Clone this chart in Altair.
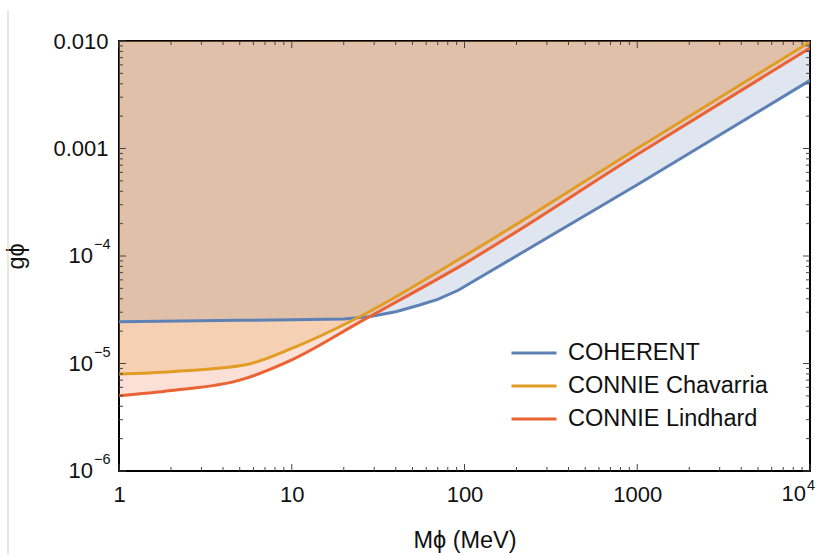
import altair as alt
import pandas as pd

# Exclusion limits on the scalar mediator coupling g_phi vs. its mass M_phi (MeV)
mass_coherent = [1, 5, 10, 20, 28, 40, 55, 70, 92, 1000, 10000]
g_coherent = [2.45e-5, 2.52e-5, 2.55e-5, 2.6e-5, 2.72e-5, 3.03e-5, 3.5e-5, 3.95e-5, 4.8e-5, 4.6e-4, 4.3e-3]

mass_chavarria = [1, 2, 5.5, 10, 25, 100, 1000, 10000]
g_chavarria = [8.0e-6, 8.4e-6, 9.8e-6, 1.38e-5, 2.75e-5, 1.0e-4, 1.0e-3, 9.8e-3]

mass_lindhard = [1, 2, 5, 10, 25, 100, 1000, 10000]
g_lindhard = [5.0e-6, 5.6e-6, 7.0e-6, 1.08e-5, 2.45e-5, 8.5e-5, 8.8e-4, 8.6e-3]

series_names = ["COHERENT", "CONNIE Chavarria", "CONNIE Lindhard"]
series_colors = ["#5E81B5", "#E19C24", "#EB6235"]
series_interp = ["linear", "monotone", "monotone"]

x_ticks = [1, 10, 100, 1000, 10000]
y_ticks = [1e-6, 1e-5, 1e-4, 1e-3, 1e-2]
x_domain = [1, 10000]
y_domain = [1e-6, 1e-2]

# power-of-ten labels drawn as base + raised exponent
y_pow_values = [1e-4, 1e-5, 1e-6]
y_pow_exps = ["−4", "−5", "−6"]
x_pow_values = [10000]
x_pow_exps = ["4"]

W, H = 691, 430
FONT = "Liberation Sans"
TXT = "#111"

frames = []
for name, ms, gs in [
    (series_names[0], mass_coherent, g_coherent),
    (series_names[1], mass_chavarria, g_chavarria),
    (series_names[2], mass_lindhard, g_lindhard),
]:
    frames.append(pd.DataFrame({"M": ms, "g": gs, "series": name}))
curves = pd.concat(frames, ignore_index=True)

# minor and major tick positions for the inward-facing frame ticks
x_major = pd.DataFrame({"v": x_ticks})
x_minor = pd.DataFrame({"v": [m * d for d in x_ticks[:-1] for m in range(2, 10)]})
y_major = pd.DataFrame({"v": y_ticks})
y_minor = pd.DataFrame({"v": [m * d for d in y_ticks[:-1] for m in range(2, 10)]})

x_scale = alt.Scale(type="log", domain=x_domain, nice=False)
y_scale = alt.Scale(type="log", domain=y_domain, nice=False)
color_scale = alt.Scale(domain=series_names, range=series_colors)

x_axis = alt.Axis(
    values=x_ticks,
    labelExpr="datum.value >= 10000 ? '' : format(datum.value, 'd')",
    labelFlush=False,
    tickSize=0,
    domain=False,
    grid=False,
    labelPadding=13,
    titlePadding=23,
    title="Mϕ (MeV)",
)
y_axis = alt.Axis(
    values=y_ticks,
    labelExpr="datum.value > 0.005 ? '0.010' : datum.value > 0.0005 ? '0.001' : ''",
    tickSize=0,
    domain=False,
    grid=False,
    labelPadding=11,
    titlePadding=24,
    title="gϕ",
)

base = alt.Chart(curves)

# shaded exclusion regions, each filled from its curve up to the top of the plot
areas = []
lines = []
for i, (name, color, interp) in enumerate(zip(series_names, series_colors, series_interp)):
    sub = base.transform_filter(alt.datum.series == name)
    areas.append(
        sub.mark_area(color=color, opacity=0.2, clip=True, interpolate=interp).encode(
            x=alt.X("M:Q", scale=x_scale, axis=x_axis),
            y=alt.Y("g:Q", scale=y_scale, axis=y_axis),
            y2=alt.datum(y_domain[1]),
        )
    )
    legend = None
    if i == 0:
        legend = alt.Legend(
            title=None,
            orient="none",
            legendX=402,
            legendY=299,
            symbolType="M-2,0L2,0",
            symbolSize=506,
            symbolStrokeWidth=3,
            labelFontSize=23.5,
            labelFont=FONT,
            labelColor=TXT,
            labelLimit=0,
            labelOffset=21,
            rowPadding=8,
        )
    lines.append(
        sub.mark_line(strokeWidth=3, clip=True, strokeCap="butt", interpolate=interp).encode(
            x=alt.X("M:Q", scale=x_scale),
            y=alt.Y("g:Q", scale=y_scale),
            color=alt.Color("series:N", scale=color_scale, legend=legend),
        )
    )

tick_color = "#444"


def xticks(df, length):
    bottom = alt.Chart(df).mark_rule(color=tick_color, strokeWidth=1).encode(
        x=alt.X("v:Q", scale=x_scale), y=alt.value(H), y2=alt.value(H - length)
    )
    top = alt.Chart(df).mark_rule(color=tick_color, strokeWidth=1).encode(
        x=alt.X("v:Q", scale=x_scale), y=alt.value(0), y2=alt.value(length)
    )
    return [bottom, top]


def yticks(df, length):
    left = alt.Chart(df).mark_rule(color=tick_color, strokeWidth=1).encode(
        y=alt.Y("v:Q", scale=y_scale), x=alt.value(0), x2=alt.value(length)
    )
    right = alt.Chart(df).mark_rule(color=tick_color, strokeWidth=1).encode(
        y=alt.Y("v:Q", scale=y_scale), x=alt.value(W), x2=alt.value(W - length)
    )
    return [left, right]


ticks = xticks(x_major, 7) + xticks(x_minor, 4) + yticks(y_major, 7) + yticks(y_minor, 4)

# "10" with a raised exponent for the power-of-ten tick labels
y_pow = pd.DataFrame({"v": y_pow_values, "exp": y_pow_exps})
x_pow = pd.DataFrame({"v": x_pow_values, "exp": x_pow_exps})

y_base_txt = alt.Chart(y_pow).mark_text(
    align="right", baseline="middle", fontSize=22, font=FONT, color=TXT
).encode(y=alt.Y("v:Q", scale=y_scale), x=alt.value(-26), text=alt.value("10"))
y_exp_txt = alt.Chart(y_pow).mark_text(
    align="left", baseline="middle", fontSize=14.5, font=FONT, color=TXT, dy=-11
).encode(y=alt.Y("v:Q", scale=y_scale), x=alt.value(-25), text="exp:N")

x_base_txt = alt.Chart(x_pow).mark_text(
    align="right", baseline="top", fontSize=22, font=FONT, color=TXT, dx=-4
).encode(x=alt.X("v:Q", scale=x_scale), y=alt.value(H + 13), text=alt.value("10"))
x_exp_txt = alt.Chart(x_pow).mark_text(
    align="left", baseline="top", fontSize=14.5, font=FONT, color=TXT, dx=-3
).encode(x=alt.X("v:Q", scale=x_scale), y=alt.value(H + 8), text="exp:N")

# thin page-edge rule on the left
edge = alt.Chart(pd.DataFrame({"k": [0]})).mark_rule(color="#cfcfcf", strokeWidth=1).encode(
    x=alt.value(-111), y=alt.value(-31), y2=alt.value(H + 84)
)

chart = (
    alt.layer(*areas, *lines, *ticks, y_base_txt, y_exp_txt, x_base_txt, x_exp_txt, edge)
    .properties(
        width=W,
        height=H,
        autosize=alt.AutoSizeParams(type="none"),
        padding={"left": 119, "top": 41, "right": 21, "bottom": 84},
    )
    .configure(background="white")
    .configure_view(stroke="#000", strokeWidth=2)
    .configure_axis(
        labelFont=FONT,
        labelFontSize=22,
        labelColor=TXT,
        titleFont=FONT,
        titleFontSize=23.5,
        titleFontWeight="normal",
        titleColor=TXT,
    )
)

chart.save("out.html", embed_options={"renderer": "svg", "actions": False})
